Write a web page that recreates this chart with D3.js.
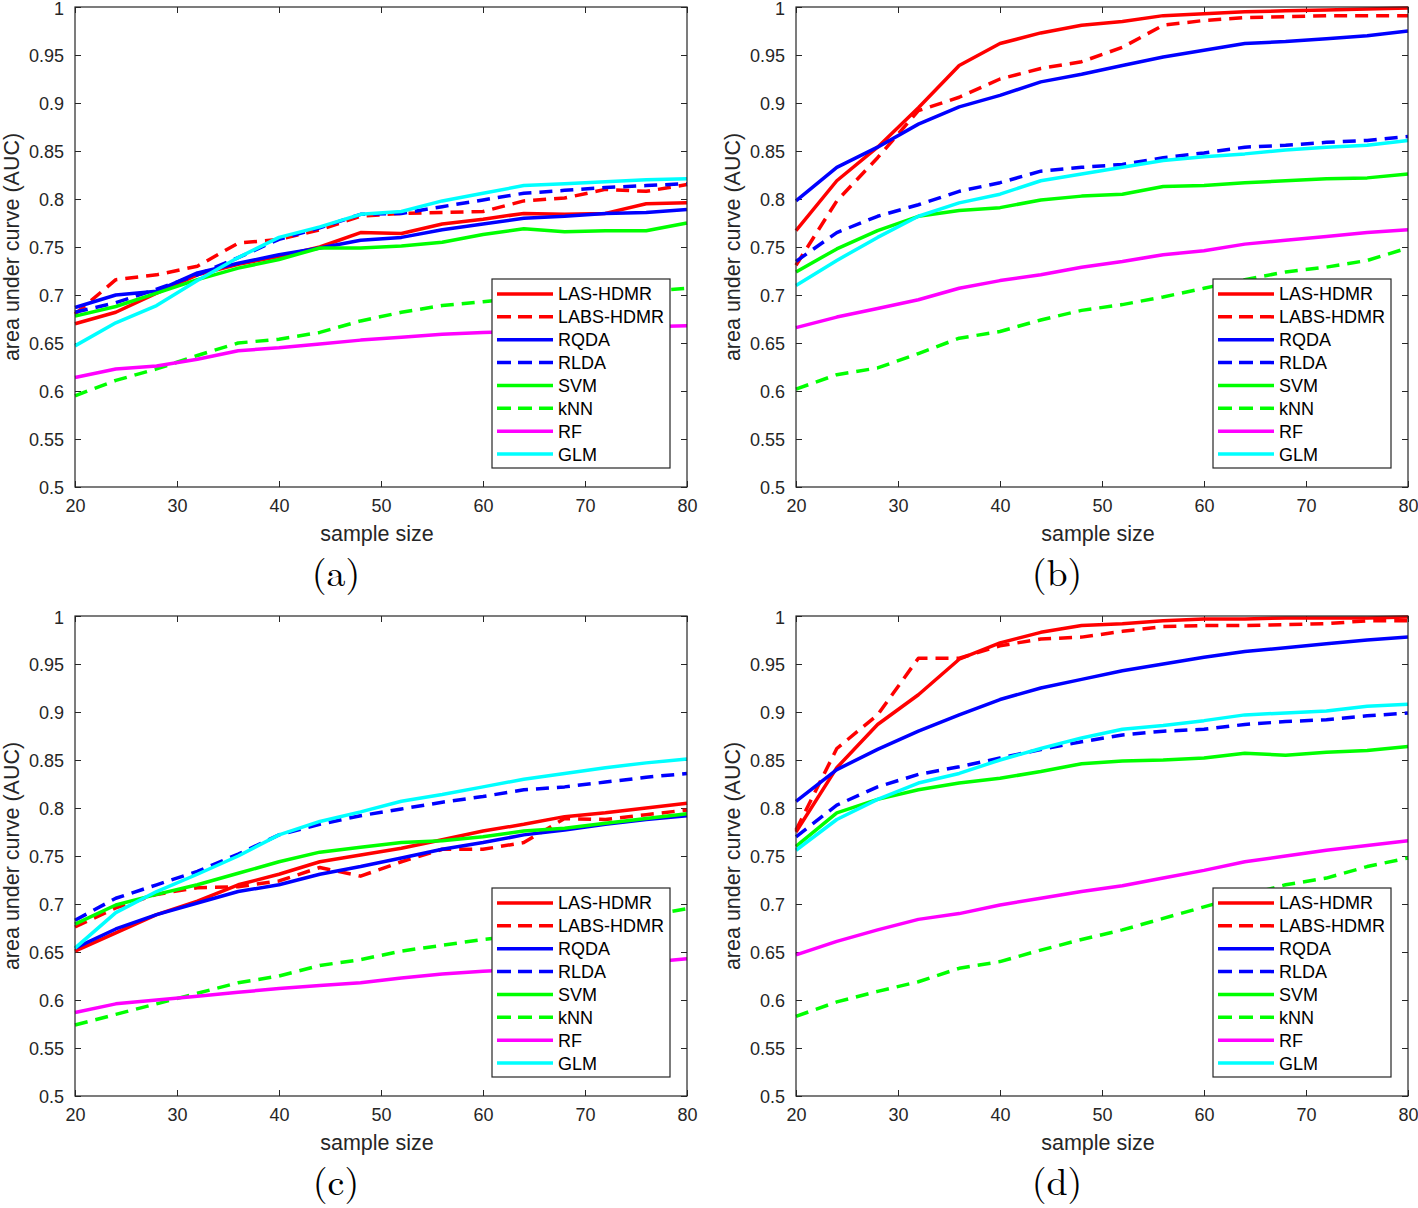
<!DOCTYPE html>
<html>
<head>
<meta charset="utf-8">
<script src="https://cdn.jsdelivr.net/npm/d3@7"></script>
<style>
  body { margin: 0; background: #fff; }
  svg { display: block; }
</style>
</head>
<body>
<div id="chart"></div>
<script>
// sample sizes on the x axis
const sampleSizes = [20, 24, 28, 32, 36, 40, 44, 48, 52, 56, 60, 64, 68, 72, 76, 80];
const xTicks = [20, 30, 40, 50, 60, 70, 80];
const yTicks = [0.5, 0.55, 0.6, 0.65, 0.7, 0.75, 0.8, 0.85, 0.9, 0.95, 1];

const methods = ["LAS-HDMR", "LABS-HDMR", "RQDA", "RLDA", "SVM", "kNN", "RF", "GLM"];
const colors = ["#ff0000", "#ff0000", "#0000ff", "#0000ff", "#00ff00", "#00ff00", "#ff00ff", "#00ffff"];
const dashed = [false, true, false, true, false, true, false, false];
const panelTags = ["(a)", "(b)", "(c)", "(d)"];

// AUC per method, in the order of `methods`
const panelA = [
  [0.670, 0.682, 0.702, 0.721, 0.732, 0.740, 0.750, 0.765, 0.764, 0.774, 0.779, 0.785, 0.784, 0.785, 0.795, 0.796],
  [0.680, 0.716, 0.721, 0.730, 0.754, 0.758, 0.768, 0.782, 0.785, 0.786, 0.787, 0.798, 0.801, 0.810, 0.808, 0.815],
  [0.687, 0.700, 0.704, 0.723, 0.733, 0.742, 0.749, 0.757, 0.760, 0.768, 0.774, 0.780, 0.782, 0.785, 0.786, 0.789],
  [0.682, 0.692, 0.706, 0.721, 0.739, 0.758, 0.770, 0.784, 0.785, 0.792, 0.799, 0.806, 0.809, 0.812, 0.814, 0.816],
  [0.678, 0.688, 0.702, 0.716, 0.728, 0.737, 0.749, 0.749, 0.751, 0.755, 0.763, 0.769, 0.766, 0.767, 0.767, 0.775],
  [0.595, 0.611, 0.623, 0.637, 0.650, 0.654, 0.661, 0.673, 0.682, 0.689, 0.693, 0.697, 0.700, 0.702, 0.704, 0.707],
  [0.614, 0.623, 0.626, 0.633, 0.642, 0.645, 0.649, 0.653, 0.656, 0.659, 0.661, 0.662, 0.664, 0.665, 0.667, 0.668],
  [0.647, 0.671, 0.689, 0.715, 0.739, 0.760, 0.771, 0.784, 0.787, 0.798, 0.806, 0.814, 0.816, 0.818, 0.820, 0.821]
];
const panelB = [
  [0.767, 0.819, 0.854, 0.895, 0.939, 0.962, 0.973, 0.981, 0.985, 0.991, 0.993, 0.995, 0.996, 0.997, 0.998, 0.999],
  [0.731, 0.798, 0.843, 0.892, 0.906, 0.925, 0.936, 0.943, 0.958, 0.981, 0.986, 0.989, 0.990, 0.991, 0.991, 0.991],
  [0.798, 0.833, 0.854, 0.878, 0.896, 0.908, 0.922, 0.930, 0.939, 0.948, 0.955, 0.962, 0.964, 0.967, 0.970, 0.975],
  [0.735, 0.765, 0.782, 0.794, 0.808, 0.817, 0.829, 0.833, 0.836, 0.843, 0.848, 0.854, 0.856, 0.859, 0.861, 0.865],
  [0.724, 0.748, 0.767, 0.782, 0.788, 0.791, 0.799, 0.803, 0.805, 0.813, 0.814, 0.817, 0.819, 0.821, 0.822, 0.826],
  [0.602, 0.617, 0.624, 0.639, 0.655, 0.662, 0.674, 0.684, 0.690, 0.698, 0.707, 0.716, 0.724, 0.729, 0.736, 0.749],
  [0.666, 0.677, 0.686, 0.695, 0.707, 0.715, 0.721, 0.729, 0.735, 0.742, 0.746, 0.753, 0.757, 0.761, 0.765, 0.768],
  [0.710, 0.736, 0.760, 0.782, 0.796, 0.805, 0.819, 0.826, 0.833, 0.840, 0.844, 0.847, 0.851, 0.854, 0.856, 0.861]
];
const panelC = [
  [0.651, 0.670, 0.689, 0.703, 0.720, 0.731, 0.744, 0.751, 0.758, 0.767, 0.776, 0.783, 0.791, 0.795, 0.800, 0.805],
  [0.676, 0.696, 0.710, 0.717, 0.718, 0.724, 0.738, 0.729, 0.744, 0.757, 0.757, 0.764, 0.789, 0.788, 0.793, 0.798],
  [0.654, 0.674, 0.689, 0.701, 0.713, 0.720, 0.731, 0.739, 0.748, 0.757, 0.764, 0.772, 0.777, 0.783, 0.788, 0.792],
  [0.683, 0.706, 0.720, 0.734, 0.752, 0.772, 0.783, 0.792, 0.799, 0.806, 0.812, 0.819, 0.822, 0.827, 0.832, 0.836],
  [0.679, 0.699, 0.710, 0.720, 0.732, 0.744, 0.754, 0.759, 0.764, 0.766, 0.770, 0.776, 0.779, 0.784, 0.789, 0.794],
  [0.574, 0.585, 0.596, 0.607, 0.618, 0.625, 0.636, 0.642, 0.651, 0.657, 0.663, 0.668, 0.675, 0.681, 0.688, 0.695],
  [0.587, 0.596, 0.600, 0.604, 0.608, 0.612, 0.615, 0.618, 0.623, 0.627, 0.630, 0.632, 0.635, 0.637, 0.639, 0.643],
  [0.654, 0.691, 0.713, 0.731, 0.750, 0.772, 0.786, 0.796, 0.807, 0.814, 0.822, 0.830, 0.836, 0.842, 0.847, 0.851]
];
const panelD = [
  [0.775, 0.842, 0.887, 0.918, 0.955, 0.972, 0.983, 0.990, 0.992, 0.995, 0.997, 0.997, 0.998, 0.998, 0.998, 0.999],
  [0.777, 0.862, 0.897, 0.956, 0.956, 0.969, 0.976, 0.978, 0.984, 0.989, 0.990, 0.990, 0.991, 0.992, 0.995, 0.995],
  [0.807, 0.840, 0.861, 0.880, 0.897, 0.913, 0.925, 0.934, 0.943, 0.950, 0.957, 0.963, 0.967, 0.971, 0.975, 0.978],
  [0.770, 0.803, 0.822, 0.835, 0.843, 0.852, 0.861, 0.869, 0.876, 0.880, 0.882, 0.887, 0.890, 0.892, 0.896, 0.899],
  [0.760, 0.795, 0.809, 0.819, 0.826, 0.831, 0.838, 0.846, 0.849, 0.850, 0.852, 0.857, 0.855, 0.858, 0.860, 0.864],
  [0.583, 0.598, 0.609, 0.619, 0.633, 0.640, 0.652, 0.663, 0.673, 0.685, 0.697, 0.709, 0.720, 0.727, 0.739, 0.748],
  [0.647, 0.661, 0.673, 0.684, 0.690, 0.699, 0.706, 0.713, 0.719, 0.727, 0.735, 0.744, 0.750, 0.756, 0.761, 0.766],
  [0.756, 0.788, 0.809, 0.826, 0.836, 0.850, 0.862, 0.873, 0.882, 0.886, 0.891, 0.897, 0.899, 0.901, 0.906, 0.908]
];

const width = 1418, height = 1208;
const pw = 612, ph = 480;
const axisColor = "#262626";
const font = "'Liberation Sans', Arial, Helvetica, sans-serif";

const svg = d3.select("#chart").append("svg")
    .attr("width", width)
    .attr("height", height)
    .style("font-family", font);

const panels = [
  {data: panelA, left: 75, top: 7},
  {data: panelB, left: 796, top: 7},
  {data: panelC, left: 75, top: 616},
  {data: panelD, left: 796, top: 616}
];

const x = d3.scaleLinear().domain([20, 80]).range([0, pw]);
const y = d3.scaleLinear().domain([0.5, 1]).range([ph, 0]);

const line = d3.line()
    .x((d, i) => x(sampleSizes[i]))
    .y(d => y(d));

panels.forEach((p, pi) => {
  const g = svg.append("g").attr("transform", `translate(${p.left},${p.top})`);

  g.append("rect")
      .attr("width", pw).attr("height", ph)
      .attr("fill", "#fff");

  // ticks pointing inwards on all four sides
  const bottom = g.append("g").attr("transform", `translate(0,${ph})`)
      .call(d3.axisBottom(x).tickValues(xTicks).tickSize(-6).tickPadding(0).tickFormat(d3.format("d")));
  const top = g.append("g")
      .call(d3.axisTop(x).tickValues(xTicks).tickSize(-6).tickFormat(""));
  const leftAx = g.append("g")
      .call(d3.axisLeft(y).tickValues(yTicks).tickSize(-6).tickPadding(0).tickFormat(d => String(+d.toFixed(2))));
  const rightAx = g.append("g").attr("transform", `translate(${pw},0)`)
      .call(d3.axisRight(y).tickValues(yTicks).tickSize(-6).tickFormat(""));

  [bottom, top, leftAx, rightAx].forEach(a => {
    a.select(".domain").remove();
    a.selectAll(".tick line").attr("stroke", axisColor).attr("stroke-width", 1);
    a.selectAll("text").attr("fill", axisColor).style("font-size", "18px").style("font-family", font);
  });
  bottom.selectAll(".tick text").attr("y", 25).attr("dy", null);
  leftAx.selectAll(".tick text").attr("x", -11).attr("dy", "0.36em");
  // top label sits at the page edge, keep it inside
  leftAx.selectAll(".tick text").filter(d => d === 1).attr("y", 1.5);

  // series
  p.data.forEach((vals, si) => {
    g.append("path")
        .datum(vals)
        .attr("fill", "none")
        .attr("stroke", colors[si])
        .attr("stroke-width", 3.5)
        .attr("stroke-linejoin", "round")
        .attr("stroke-dasharray", dashed[si] ? "13,8" : null)
        .attr("d", line);
  });

  g.append("rect")
      .attr("width", pw).attr("height", ph)
      .attr("fill", "none")
      .attr("stroke", axisColor)
      .attr("stroke-width", 1.2);

  // axis labels
  g.append("text")
      .attr("x", pw / 2 - 4).attr("y", ph + 54)
      .attr("text-anchor", "middle")
      .attr("fill", axisColor)
      .style("font-size", "21.5px")
      .text("sample size");
  g.append("text")
      .attr("transform", `translate(-56,${ph / 2}) rotate(-90)`)
      .attr("text-anchor", "middle")
      .attr("fill", axisColor)
      .style("font-size", "21.5px")
      .text("area under curve (AUC)");

  g.append("text")
      .attr("x", pw / 2 - 45).attr("y", ph + 99)
      .attr("text-anchor", "middle")
      .attr("fill", "#000")
      .style("font-family", "'Latin Modern Roman', 'DejaVu Serif', 'Liberation Serif', serif")
      .style("font-size", "38px")
      .text(panelTags[pi]);

  // legend
  const lw = 178, lh = 189;
  const lg = g.append("g").attr("transform", `translate(${pw - 17 - lw},${272})`);
  lg.append("rect")
      .attr("width", lw).attr("height", lh)
      .attr("fill", "#fff")
      .attr("stroke", axisColor)
      .attr("stroke-width", 1.2);
  methods.forEach((m, i) => {
    const yy = 15 + i * 22.86;
    lg.append("line")
        .attr("x1", 5).attr("x2", 61)
        .attr("y1", yy).attr("y2", yy)
        .attr("stroke", colors[i])
        .attr("stroke-width", 3.5)
        .attr("stroke-dasharray", dashed[i] ? "14,7" : null);
    lg.append("text")
        .attr("x", 66).attr("y", yy)
        .attr("dy", "0.36em")
        .attr("fill", "#000")
        .style("font-size", "18px")
        .text(m);
  });
});
</script>
</body>
</html>
